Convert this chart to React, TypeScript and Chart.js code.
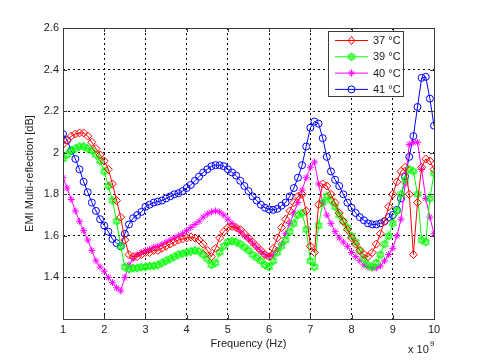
import React, { useEffect, useRef } from "react";
import { Chart, registerables } from "chart.js";

Chart.register(...registerables);

const freqGHz = [
  1.0, 1.1, 1.2, 1.3, 1.4, 1.5, 1.6, 1.7, 1.8, 1.9,
  2.0, 2.1, 2.2, 2.3, 2.4, 2.5, 2.6, 2.7, 2.8, 2.9,
  3.0, 3.1, 3.2, 3.3, 3.4, 3.5, 3.6, 3.7, 3.8, 3.9,
  4.0, 4.1, 4.2, 4.3, 4.4, 4.5, 4.6, 4.7, 4.8, 4.9,
  5.0, 5.1, 5.2, 5.3, 5.4, 5.5, 5.6, 5.7, 5.8, 5.9,
  6.0, 6.1, 6.2, 6.3, 6.4, 6.5, 6.6, 6.7, 6.8, 6.9,
  7.0, 7.1, 7.2, 7.3, 7.4, 7.5, 7.6, 7.7, 7.8, 7.9,
  8.0, 8.1, 8.2, 8.3, 8.4, 8.5, 8.6, 8.7, 8.8, 8.9,
  9.0, 9.1, 9.2, 9.3, 9.4, 9.5, 9.6, 9.7, 9.8, 9.9,
  10.0,
];

const t37 = [
  2.04, 2.06, 2.08, 2.09, 2.095, 2.095, 2.08, 2.05, 2.02, 1.99,
  1.96, 1.92, 1.85, 1.77, 1.69, 1.58, 1.51, 1.50, 1.50, 1.51,
  1.52, 1.52, 1.53, 1.53, 1.54, 1.55, 1.56, 1.57, 1.58, 1.585,
  1.59, 1.595, 1.59, 1.58, 1.56, 1.53, 1.50, 1.54, 1.59, 1.62,
  1.64, 1.645, 1.64, 1.63, 1.61, 1.59, 1.57, 1.55, 1.53, 1.51,
  1.50, 1.54, 1.59, 1.64, 1.68, 1.72, 1.76, 1.79, 1.80, 1.72,
  1.55, 1.52, 1.75, 1.85, 1.84, 1.80, 1.76, 1.71, 1.67, 1.63,
  1.59, 1.56, 1.53, 1.51, 1.50, 1.52, 1.56, 1.61, 1.67, 1.74,
  1.80, 1.86, 1.91, 1.93, 1.80, 1.51, 1.76, 1.93, 1.97, 1.96,
  1.92,
];

const t39 = [
  1.97, 1.99, 2.01, 2.02, 2.03, 2.03, 2.02, 2.01, 1.99, 1.96,
  1.91, 1.84, 1.77, 1.67, 1.55, 1.45, 1.44, 1.445, 1.445, 1.45,
  1.45, 1.455, 1.455, 1.46, 1.47, 1.48, 1.49, 1.50, 1.51, 1.515,
  1.52, 1.525, 1.53, 1.525, 1.51, 1.49, 1.46, 1.47, 1.52, 1.55,
  1.57, 1.575, 1.57, 1.56, 1.545, 1.53, 1.51, 1.495, 1.48, 1.46,
  1.45, 1.48, 1.52, 1.55, 1.58, 1.62, 1.66, 1.70, 1.71, 1.63,
  1.48, 1.45, 1.65, 1.76, 1.79, 1.77, 1.74, 1.70, 1.67, 1.64,
  1.60, 1.57, 1.53, 1.49, 1.46, 1.45, 1.47, 1.51, 1.56, 1.60,
  1.66, 1.72, 1.80, 1.87, 1.92, 1.91, 1.80, 1.58, 1.57, 1.78,
  1.90,
];

const t40 = [
  1.88, 1.83, 1.775, 1.72, 1.67, 1.625, 1.58, 1.53, 1.48, 1.45,
  1.43, 1.40, 1.375, 1.35, 1.335, 1.40, 1.46, 1.49, 1.51, 1.52,
  1.53, 1.535, 1.545, 1.55, 1.56, 1.57, 1.58, 1.59, 1.60, 1.61,
  1.625, 1.64, 1.655, 1.67, 1.69, 1.705, 1.715, 1.72, 1.715, 1.70,
  1.68, 1.66, 1.64, 1.62, 1.60, 1.585, 1.565, 1.545, 1.525, 1.51,
  1.50, 1.51, 1.53, 1.56, 1.61, 1.66, 1.71, 1.76, 1.82, 1.88,
  1.93, 1.955, 1.85, 1.76, 1.70, 1.66, 1.62, 1.59, 1.57, 1.55,
  1.52, 1.50, 1.48, 1.46, 1.45, 1.445, 1.445, 1.455, 1.48, 1.51,
  1.54, 1.60, 1.68, 1.85, 2.04, 2.05, 2.05, 1.92, 1.78, 1.69,
  1.61,
];

const t41 = [
  2.09, 2.06, 2.01, 1.97, 1.92, 1.86, 1.81, 1.76, 1.72, 1.68,
  1.65, 1.62, 1.585, 1.565, 1.55, 1.61, 1.655, 1.685, 1.70, 1.715,
  1.74, 1.75, 1.76, 1.765, 1.77, 1.78, 1.79, 1.80, 1.805, 1.815,
  1.83, 1.845, 1.865, 1.885, 1.905, 1.92, 1.935, 1.94, 1.94, 1.935,
  1.92, 1.905, 1.89, 1.865, 1.84, 1.815, 1.79, 1.77, 1.75, 1.735,
  1.727, 1.725, 1.73, 1.745, 1.76, 1.79, 1.83, 1.88, 1.94, 2.03,
  2.12, 2.15, 2.14, 2.07, 1.98, 1.91, 1.87, 1.84, 1.80, 1.76,
  1.735, 1.71, 1.69, 1.675, 1.66, 1.655, 1.655, 1.66, 1.67, 1.69,
  1.70, 1.725, 1.78, 1.885, 1.98, 2.08, 2.22, 2.36, 2.365, 2.26,
  2.13,
];

const seriesLabels = ["37 °C", "39 °C", "40 °C", "41 °C"];
const seriesColors = ["#ff0000", "#00ff00", "#ff00ff", "#0000ff"];
const xTickValues = [1, 2, 3, 4, 5, 6, 7, 8, 9, 10];
const yTickValues = [1.2, 1.4, 1.6, 1.8, 2.0, 2.2, 2.4, 2.6];

const FONT = "'Liberation Sans', Arial, sans-serif";

function makeHexagram(color: string): HTMLCanvasElement {
  const c = document.createElement("canvas");
  c.width = 10;
  c.height = 10;
  const g = c.getContext("2d")!;
  g.strokeStyle = color;
  g.lineWidth = 1;
  const cx = 5, cy = 5, r = 4.2;
  for (let k = 0; k < 2; k++) {
    g.beginPath();
    for (let i = 0; i < 3; i++) {
      const a = -Math.PI / 2 + k * Math.PI + (i * 2 * Math.PI) / 3;
      const px = cx + r * Math.cos(a);
      const py = cy + r * Math.sin(a);
      if (i === 0) g.moveTo(px, py);
      else g.lineTo(px, py);
    }
    g.closePath();
    g.stroke();
  }
  return c;
}

function drawMarker(ctx: CanvasRenderingContext2D, kind: number, x: number, y: number, color: string, hex: HTMLCanvasElement) {
  ctx.save();
  ctx.strokeStyle = color;
  ctx.lineWidth = 1;
  ctx.beginPath();
  if (kind === 0) {
    const r = 4;
    ctx.moveTo(x, y - r);
    ctx.lineTo(x + r * 0.8, y);
    ctx.lineTo(x, y + r);
    ctx.lineTo(x - r * 0.8, y);
    ctx.closePath();
    ctx.stroke();
  } else if (kind === 1) {
    ctx.drawImage(hex, x - hex.width / 2, y - hex.height / 2);
  } else if (kind === 2) {
    const r = 3.5;
    for (let i = 0; i < 4; i++) {
      const a = (i * Math.PI) / 4;
      ctx.moveTo(x - r * Math.cos(a), y - r * Math.sin(a));
      ctx.lineTo(x + r * Math.cos(a), y + r * Math.sin(a));
    }
    ctx.stroke();
  } else {
    ctx.arc(x, y, 3.5, 0, Math.PI * 2);
    ctx.stroke();
  }
  ctx.restore();
}

export default function App() {
  const ref = useRef<HTMLCanvasElement | null>(null);

  useEffect(() => {
    document.body.style.margin = "0";
    const canvas = ref.current!;
    const hex = makeHexagram(seriesColors[1]);
    const seriesValues = [t37, t39, t40, t41];
    const pointStyles: any[] = ["rectRot", hex, "star", "circle"];
    const radii = [4, 4, 3.5, 3.5];

    const decor = {
      id: "decor",
      afterDraw(chart: any) {
        const ctx: CanvasRenderingContext2D = chart.ctx;
        const a = chart.chartArea;
        const xs = chart.scales.x;
        const ys = chart.scales.y;
        ctx.save();
        ctx.strokeStyle = "#3a3a3a";
        ctx.lineWidth = 1;
        ctx.strokeRect(Math.round(a.left) + 0.5, Math.round(a.top) + 0.5, Math.round(a.right - a.left), Math.round(a.bottom - a.top));
        ctx.beginPath();
        xTickValues.forEach((v) => {
          const px = Math.round(xs.getPixelForValue(v)) + 0.5;
          ctx.moveTo(px, a.top);
          ctx.lineTo(px, a.top + 4);
          ctx.moveTo(px, a.bottom);
          ctx.lineTo(px, a.bottom - 4);
        });
        yTickValues.forEach((v) => {
          const py = Math.round(ys.getPixelForValue(v)) + 0.5;
          ctx.moveTo(a.left, py);
          ctx.lineTo(a.left + 4, py);
          ctx.moveTo(a.right, py);
          ctx.lineTo(a.right - 4, py);
        });
        ctx.stroke();
        ctx.fillStyle = "#222";
        ctx.font = `11px ${FONT}`;
        ctx.textBaseline = "alphabetic";
        ctx.textAlign = "left";
        ctx.fillText("x 10", 408, 353);
        ctx.font = `8px ${FONT}`;
        ctx.fillText("9", 430, 346);
        const lx = 328, ly = 31, lw = 75, lh = 65;
        ctx.fillStyle = "#ffffff";
        ctx.fillRect(lx, ly, lw, lh);
        ctx.strokeStyle = "#3a3a3a";
        ctx.strokeRect(lx + 0.5, ly + 0.5, lw, lh);
        ctx.font = `11px ${FONT}`;
        ctx.textBaseline = "middle";
        seriesLabels.forEach((lab, i) => {
          const yy = 40.5 + i * 16.3;
          ctx.strokeStyle = seriesColors[i];
          ctx.beginPath();
          ctx.moveTo(335, yy);
          ctx.lineTo(368, yy);
          ctx.stroke();
          drawMarker(ctx, i, 351.5, yy, seriesColors[i], hex);
          ctx.fillStyle = "#222";
          ctx.fillText(lab, 373, yy + 0.5);
        });
        ctx.restore();
      },
    };

    const chart = new Chart(canvas, {
      type: "line",
      data: {
        datasets: seriesLabels.map((lab, i) => ({
          label: lab,
          data: freqGHz.map((f, j) => ({ x: f, y: seriesValues[i][j] })),
          borderColor: seriesColors[i],
          backgroundColor: "rgba(0,0,0,0)",
          borderWidth: 1,
          pointStyle: pointStyles[i],
          pointRadius: radii[i],
          pointBorderWidth: 1,
          pointBorderColor: seriesColors[i],
          pointBackgroundColor: "rgba(0,0,0,0)",
          tension: 0,
          fill: false,
        })),
      },
      options: {
        animation: false,
        responsive: false,
        maintainAspectRatio: false,
        layout: { padding: { left: 0, top: 28, right: 46, bottom: 0 } },
        plugins: { legend: { display: false }, tooltip: { enabled: false } },
        scales: {
          x: {
            type: "linear",
            min: 1,
            max: 10,
            afterBuildTicks: (s: any) => {
              s.ticks = xTickValues.map((v) => ({ value: v }));
            },
            afterFit: (s: any) => {
              s.height = 41;
            },
            ticks: {
              color: "#222",
              font: { size: 11, family: FONT },
              padding: 4,
              maxRotation: 0,
              callback: (v: any) => String(v),
            },
            grid: { color: "#000", lineWidth: 1, drawTicks: false },
            border: { display: false, dash: [2, 3] },
            title: {
              display: true,
              text: "Frequency (Hz)",
              color: "#222",
              font: { size: 11, family: FONT },
              padding: { top: 0, bottom: 9 },
            },
          },
          y: {
            type: "linear",
            min: 1.2,
            max: 2.6,
            afterBuildTicks: (s: any) => {
              s.ticks = yTickValues.map((v) => ({ value: v }));
            },
            afterFit: (s: any) => {
              s.width = 63;
            },
            ticks: {
              color: "#222",
              font: { size: 11, family: FONT },
              padding: 4,
              callback: (v: any) => (Math.abs(v - 1.2) < 1e-6 ? "" : String(Math.round(v * 10) / 10)),
            },
            grid: { color: "#000", lineWidth: 1, drawTicks: false },
            border: { display: false, dash: [2, 3] },
            title: {
              display: true,
              text: "EMI Multi-reflection [dB]",
              color: "#222",
              font: { size: 11, family: FONT },
              padding: { top: 23, bottom: 0 },
            },
          },
        },
      },
      plugins: [decor],
    } as any);

    return () => chart.destroy();
  }, []);

  return (
    <div style={{ width: 480, height: 360, background: "#fff" }}>
      <canvas ref={ref} width={480} height={360} style={{ display: "block" }} />
    </div>
  );
}
